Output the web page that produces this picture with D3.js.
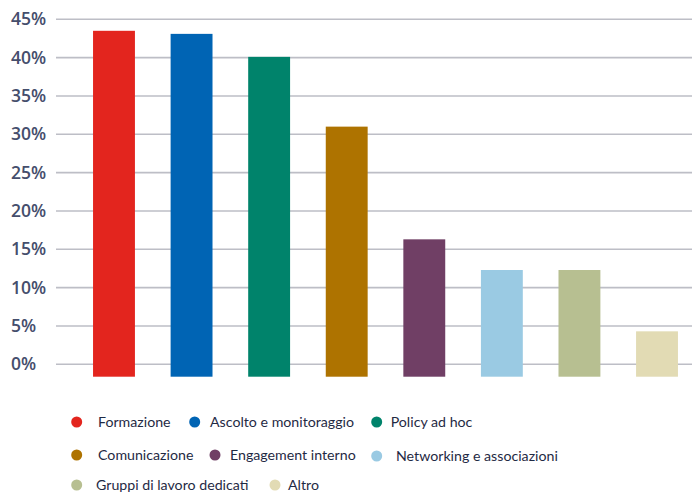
<!DOCTYPE html>
<html>
<head>
<meta charset="utf-8">
<script src="https://cdn.jsdelivr.net/npm/d3@7"></script>
<style>
  html, body { margin: 0; padding: 0; background: #fff; }
  svg { display: block; }
</style>
</head>
<body>
<svg id="chart" width="692" height="493"></svg>
<script>
// Categories and shares (%) of each initiative
const categories = [
  "Formazione",
  "Ascolto e monitoraggio",
  "Policy ad hoc",
  "Comunicazione",
  "Engagement interno",
  "Networking e associazioni",
  "Gruppi di lavoro dedicati",
  "Altro"
];
const values = [43.5, 43.1, 40.1, 31.0, 16.3, 12.3, 12.3, 4.3];
const colors = ["#e3251e", "#0064b4", "#00836b", "#ae7300", "#703f65", "#9acae3", "#b7bf91", "#e2dbb4"];
const yTicks = [0, 5, 10, 15, 20, 25, 30, 35, 40, 45];

// Legend layout: marker x, label x, row y for each category
const legendLayout = [
  { dot: 76.7, text: 98, y: 422 },
  { dot: 194.7, text: 210, y: 422 },
  { dot: 376.7, text: 390.7, y: 422 },
  { dot: 76.7, text: 98, y: 455 },
  { dot: 215, text: 230, y: 455 },
  { dot: 376.7, text: 396, y: 456 },
  { dot: 76.7, text: 96, y: 485 },
  { dot: 275, text: 288, y: 485 }
];

const svg = d3.select("#chart");

const y = d3.scaleLinear().domain([0, 45]).range([364.3, 19.3]);
const x = d3.scaleBand()
  .domain(categories)
  .range([75.2, 695.8])
  .paddingInner(0.46)
  .paddingOuter(0.23);

// Gridlines
svg.append("g")
  .selectAll("line")
  .data(yTicks)
  .join("line")
  .attr("x1", 56)
  .attr("x2", 692)
  .attr("y1", d => y(d))
  .attr("y2", d => y(d))
  .attr("stroke", "#bdbec6")
  .attr("stroke-width", 1.6);

// Y axis labels
svg.append("g")
  .selectAll("text")
  .data(yTicks)
  .join("text")
  .attr("x", 11)
  .attr("y", d => y(d))
  .attr("dy", "0.35em")
  .attr("font-family", "'Open Sans', sans-serif")
  .attr("font-weight", 600)
  .attr("font-size", 17.5)
  .attr("fill", "#454e6c")
  .text(d => d + "%");

// Bars: they run a little below the zero line
const barBase = y(0) + 12.4;
svg.append("g")
  .selectAll("rect")
  .data(values)
  .join("rect")
  .attr("x", (d, i) => x(categories[i]))
  .attr("width", x.bandwidth())
  .attr("y", d => y(d))
  .attr("height", d => barBase - y(d))
  .attr("fill", (d, i) => colors[i]);

// Legend
const legend = svg.append("g")
  .attr("font-family", "Lato, sans-serif")
  .attr("font-size", 14.2)
  .attr("fill", "#1f2a44");

const items = legend.selectAll("g")
  .data(categories)
  .join("g");

items.append("circle")
  .attr("cx", (d, i) => legendLayout[i].dot)
  .attr("cy", (d, i) => legendLayout[i].y)
  .attr("r", 5.5)
  .attr("fill", (d, i) => colors[i]);

items.append("text")
  .attr("x", (d, i) => legendLayout[i].text)
  .attr("y", (d, i) => legendLayout[i].y)
  .attr("dy", "0.35em")
  .text(d => d);
</script>
</body>
</html>
